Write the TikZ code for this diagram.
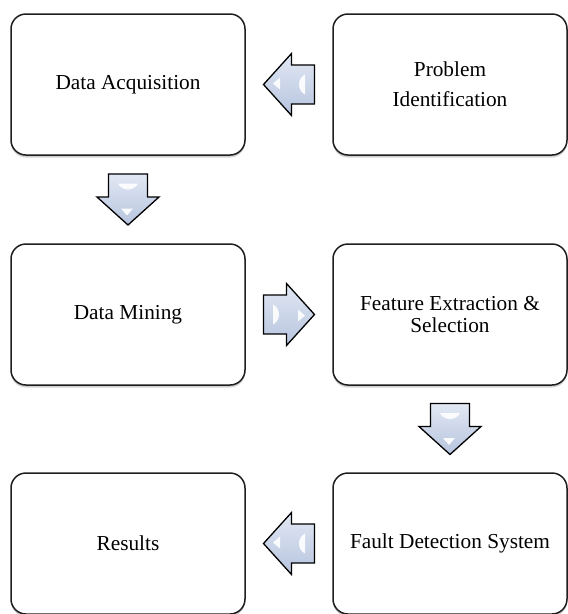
\documentclass[tikz,border=0pt]{standalone}
\usepackage{fontspec}
\setmainfont{Liberation Serif}
\usetikzlibrary{calc,shadows}
\definecolor{arrowlight}{RGB}{226,232,244}
\definecolor{arrowdark}{RGB}{182,196,222}
\definecolor{boxline}{RGB}{30,30,30}
\tikzset{
  stepbox/.style={draw=boxline, line width=1.5pt, rounded corners=15pt,
    minimum width=234pt, minimum height=141pt, fill=white, align=center,
    inner sep=0pt, font=\fontsize{21.3}{22}\selectfont,
    drop shadow={shadow xshift=0pt, shadow yshift=-2.5pt, opacity=0.3, fill=black!60}},
  blockarrow/.style={draw=black, line width=1.3pt, line join=miter,
    top color=arrowlight, bottom color=arrowdark},
  glint/.style={fill=white, draw=none, opacity=0.9},
}
\newcommand\flowarrow[3]{%
  \begin{scope}[shift={($(#1)!0.5!(#2)$)}, rotate=#3]
    \draw[blockarrow] (-25.5,-19.5) -- (-2.5,-19.5) -- (-2.5,-31) -- (25.5,0)
      -- (-2.5,31) -- (-2.5,19.5) -- (-25.5,19.5) -- cycle;
    \fill[glint] (16,1) -- (9,-5) -- (9,7) -- cycle;
    \fill[glint] (-16,-10) .. controls (-8,-6) and (-8,6) .. (-16,10) -- cycle;
  \end{scope}}
\begin{document}
\begin{tikzpicture}[x=1pt, y=-1pt]
  \useasboundingbox (0,0) rectangle (568,614);
  \node[stepbox] (acq) at (128,84.5) {Data Acquisition};
  \node[stepbox, font=\fontsize{21.3}{30}\selectfont] (prob) at (450,84.5) {Problem\\Identification};
  \node[stepbox] (mine) at (128,314.5) {Data Mining};
  \node[stepbox] (feat) at (450,314.5) {Feature Extraction \&\\Selection};
  \node[stepbox] (res) at (128,543.5) {Results};
  \node[stepbox] (fault) at (450,543.5) {Fault Detection System};
  \flowarrow{prob}{acq}{180}
  \flowarrow{acq}{mine}{-90}
  \flowarrow{mine}{feat}{0}
  \flowarrow{feat}{fault}{-90}
  \flowarrow{fault}{res}{180}
\end{tikzpicture}
\end{document}
